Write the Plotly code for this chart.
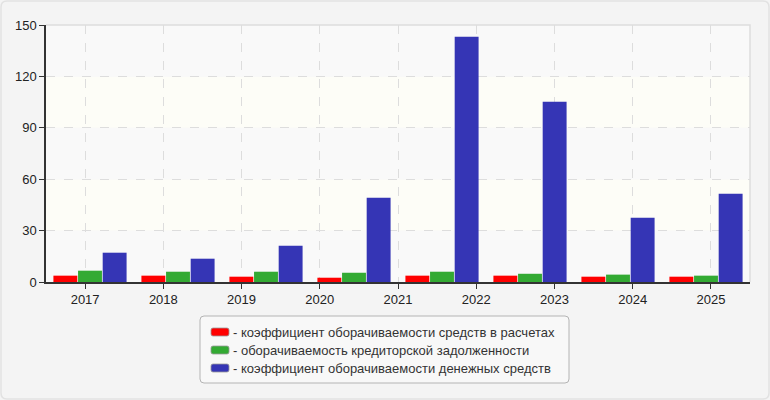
import plotly.graph_objects as go

# data
years = ["2017", "2018", "2019", "2020", "2021", "2022", "2023", "2024", "2025"]
receivables = [3.7, 3.7, 3.1, 2.5, 3.7, 3.7, 3.1, 3.1]
payables = [6.6, 6.0, 6.0, 5.4, 6.0, 4.8, 4.3, 3.7]
cash = [17.1, 13.6, 21.2, 49.2, 143.2, 105.2, 37.5, 51.5]

names = ["коэффициент оборачиваемости средств в расчетах",
         "оборачиваемость кредиторской задолженности",
         "коэффициент оборачиваемости денежных средств"]
colors = ["#ff0000", "#33aa33", "#3535b5"]

W, H = 770, 400
L, R, T, B = 46, 20, 25, 118
pw, ph = W - L - R, H - T - B


# pixel -> paper coords, for the decoration drawn outside the plot
def px(x):
    return (x - L) / pw


def py(y):
    return (H - B - y) / ph


def rrect(x0, y0, x1, y1, r):
    # rounded rectangle path given in pixels
    a, b, c, d = px(x0), py(y0), px(x1), py(y1)
    rx, ry = r / pw, r / ph
    return (f"M{a+rx},{b} L{c-rx},{b} Q{c},{b} {c},{b-ry} L{c},{d+ry} "
            f"Q{c},{d} {c-rx},{d} L{a+rx},{d} Q{a},{d} {a},{d+ry} "
            f"L{a},{b-ry} Q{a},{b} {a+rx},{b} Z")


fig = go.Figure()
for vals, name, col in zip([receivables, payables, cash], names, colors):
    fig.add_trace(go.Bar(x=list(range(len(vals))), y=vals, name=name,
                         marker=dict(color=col, line=dict(width=0)),
                         showlegend=False))
# empty trace so the label axis gets drawn
fig.add_trace(go.Scatter(x=[None], y=[None], xaxis="x2", showlegend=False, hoverinfo="skip"))

shapes = []
# background bands
for i, (lo, hi) in enumerate([(0, 30), (30, 60), (60, 90), (90, 120), (120, 150)]):
    shapes.append(dict(type="rect", xref="paper", yref="y", x0=0, x1=1, y0=lo, y1=hi,
                       fillcolor="#f9f9f9" if i % 2 == 0 else "#fdfdf7",
                       line=dict(width=0), layer="below"))
# top and right border of plot
shapes.append(dict(type="path", xref="paper", yref="paper", path="M0,1 L1,1 L1,0",
                   line=dict(color="#dddddd", width=1.5)))
# outer frame
shapes.append(dict(type="path", xref="paper", yref="paper", path=rrect(1, 1, 769, 399, 6),
                   line=dict(color="#e2e2e2", width=1.5)))
# legend box
shapes.append(dict(type="path", xref="paper", yref="paper", path=rrect(200, 316, 569, 383, 4),
                   fillcolor="#f8f8f8", line=dict(color="#b4b4b4", width=1)))

annotations = []
for i, (name, col) in enumerate(zip(names, colors)):
    yc = 332 + 18 * i
    shapes.append(dict(type="path", xref="paper", yref="paper",
                       path=rrect(211, yc - 4, 229, yc + 4, 2),
                       fillcolor=col, line=dict(color="#999999", width=0.8)))
    annotations.append(dict(xref="paper", yref="paper", x=px(231), y=py(yc),
                            xanchor="left", yanchor="middle", showarrow=False,
                            text="- " + name, font=dict(size=13, color="#333333")))

fig.update_layout(
    width=W, height=H,
    margin=dict(l=L, r=R, t=T, b=B),
    paper_bgcolor="#f4f4f4",
    plot_bgcolor="rgba(0,0,0,0)",
    font=dict(family="Liberation Sans, Arial, sans-serif", size=13, color="#222222"),
    barmode="group",
    bargap=0.16,
    bargroupgap=0.03,
    xaxis=dict(range=[-0.5, len(cash) - 0.5], showticklabels=False, ticks="",
               showgrid=False, zeroline=False, showline=False, fixedrange=True),
    xaxis2=dict(overlaying="x", anchor="y", side="bottom", range=[0, len(years)],
                tickvals=[i + 0.5 for i in range(len(years))], ticktext=years,
                ticks="outside", ticklen=5, tickcolor="#333333",
                showline=True, linecolor="#333333", linewidth=1.5,
                showgrid=True, gridcolor="#dddddd", griddash="dash", gridwidth=1,
                zeroline=False, tickfont=dict(size=13, color="#222222")),
    yaxis=dict(range=[0, 150], dtick=30, ticks="outside", ticklen=5, tickcolor="#333333",
               showline=True, linecolor="#333333", linewidth=1.5,
               showgrid=True, gridcolor="#dddddd", griddash="dash", gridwidth=1,
               zeroline=False, tickfont=dict(size=13, color="#222222")),
    shapes=shapes,
    annotations=annotations,
)

# drop the default page margin so the figure sits at the window corner
fig.write_html("out.html", config={"displayModeBar": False},
               post_script="document.body.style.margin='0';")
